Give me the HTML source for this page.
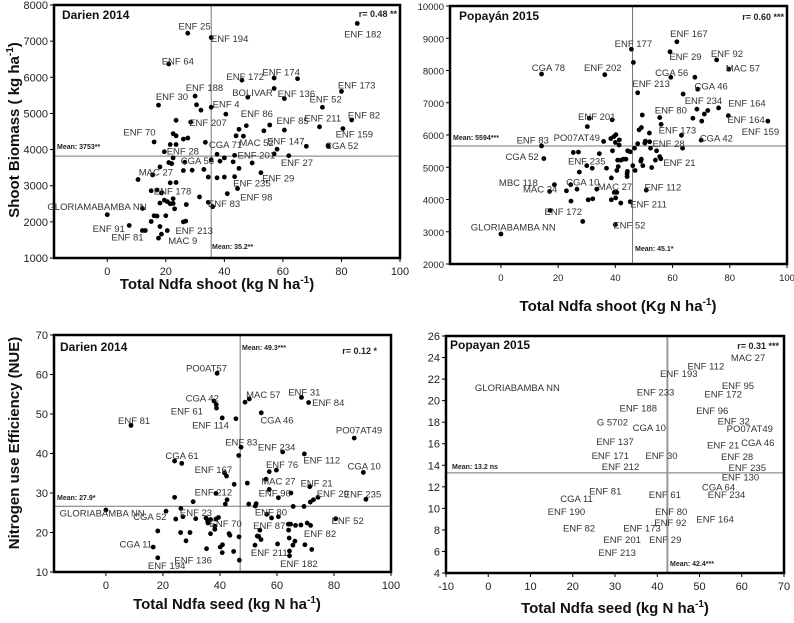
<!DOCTYPE html>
<html><head><meta charset="utf-8"><style>
body{margin:0;background:#fff}
svg{display:block;font-family:"Liberation Sans",Arial,sans-serif}
.lbl{font-size:9.5px;fill:#333}
.tk{font-size:11px;fill:#222}
.tks{font-size:9.5px;fill:#222}
.ttl{font-size:12px;font-weight:bold;fill:#111}
.ax{font-size:15px;font-weight:bold;fill:#111}
.mean{font-size:7px;font-weight:bold;fill:#222}
</style></head><body>
<svg id="chart" width="794" height="623" viewBox="0 0 794 623"></svg>
<script>
// ---------- Panel 1: Darien 2014 shoot ----------
const p1X=[85.4,27.5,35.5,21,46,57,65,57,80,48,60.5,30,17.5,30.5,32,35.5,40.5,73.5,83.5,72.5,80.5,23.5,28.5,47.5,55.5,45,53.5,60.5,16,22.5,23.5,26,27.5,44,46.5,33.5,21.5,23.5,19.5,58,57,68,75.5,62,37.5,40,43.5,22.5,18,21,22,26.5,35.5,38.5,43,49.5,15.5,10.5,21.5,23.5,26,29,33,34.5,37.5,40,43.5,45,52.5,15,17,18.5,19.5,20.5,21.5,22.5,22.5,23,18,27,31.5,34.5,36,41,44.5,12,0,15,16,17,20,26,26.8,7.5,12,13,18,20.5,18.5,17.5];
const p1Y=[7490,7220,7100,6370,5920,5980,5960,5690,5610,5450,5410,5480,5230,5240,5090,5170,4980,5170,4820,4630,4580,4810,4760,4660,4680,4560,4520,4540,4210,4440,4380,4290,4320,4380,4370,4200,4140,4140,3940,4010,3880,4090,4100,3830,3870,3770,3840,3770,3520,3640,3610,3650,3720,3680,3660,3630,3300,3170,3080,3090,3420,3430,3450,3240,3220,3240,3250,3480,3360,2860,2880,2800,2600,2560,2500,2640,2510,2360,2520,2480,2690,2540,2420,2780,2920,2370,2200,2010,2170,2160,2170,2000,2020,1900,1760,1760,1870,1760,1660,1550];
const p1LabelText=["ENF 25","ENF 194","ENF 64","ENF 172","ENF 174","ENF 188","BOLIVAR","ENF 136","ENF 173","ENF 30","ENF 52","ENF 4","ENF 82","ENF 86","ENF 207","ENF 85","ENF 211","ENF 70","ENF 159","MAC 52","ENF 147","CGA 71","CGA 52","ENF 28","ENF 201","ENF 27","CGA 58","MAC 27","ENF 29","ENF 235","ENF 178","ENF 98","GLORIAMABAMBA NN","ENF 83","ENF 91","ENF 213","ENF 81","MAC 9","ENF 182"];
const p1LabelX=[29.8,41.8,24.1,47.1,59.4,33.2,49.6,64.6,85.2,22.1,74.6,40.6,87.7,51.1,34.4,63.3,73.6,11.0,84.4,51.0,61.0,40.4,80.1,25.8,50.9,64.8,30.8,16.6,58.4,49.4,22.3,50.9,-3.5,39.9,0.5,29.7,6.9,25.8,87.3];
const p1LabelY=[7418,7068,6451,6018,6147,5724,5576,5558,5788,5466,5401,5254,4950,4996,4748,4803,4867,4490,4435,4195,4232,4140,4112,3965,3855,3643,3698,3385,3219,3072,2860,2694,2418,2501,1810,1764,1580,1488,7200];
const p1XTicks=[0,20,40,60,80,100];
const p1YTicks=[1000,2000,3000,4000,5000,6000,7000,8000];
const p1Mean=[35.5,3820];

// ---------- Panel 2: Popayan 2015 shoot ----------
const p2X=[0,17.2,28.6,40,14.2,15.0,14.2,36.3,45.6,46.3,61.5,59.1,75.4,79.7,59.4,67.8,68.8,63.7,47.8,68.5,72.3,76.1,71.1,67.1,70.2,79.5,93.3,49.4,55.5,56.0,30.9,38.9,30.2,48.3,49.1,51.9,63.1,70.0,35.9,38.4,39.5,40.2,40.0,41.3,41.4,47.8,50.3,50.5,52.0,52.3,63.5,46.7,39.0,44.3,45.2,25.3,27.1,34.4,54.4,55.5,55.9,54.0,49.1,48.9,40.8,41.9,42.8,43.7,30.0,31.9,36.9,41.0,46.1,49.6,52.7,27.4,40.5,44.2,44.1,44.1,46.9,38.6,18.7,17.0,22.9,24.4,26.6,33.5,39.6,40.5,50.8,24.5,30.5,32.1,38.6,40.1,41.9,45.2];
const p2Y=[2930,3660,3320,3220,5660,5270,7890,7870,8660,8250,8890,8580,8330,8040,7790,7790,7420,7270,7310,6800,6760,6840,6650,6520,6430,6600,6430,6620,6540,6330,6520,6470,6260,6160,6230,6060,5990,5840,5800,5890,5950,6010,5770,5690,5850,5730,5750,5810,5790,5590,5590,5590,5510,5510,5480,5460,5470,5420,5510,5330,5260,5220,5250,5190,5220,5220,5250,5250,5050,4970,4970,5020,5050,5050,4990,4850,4900,4870,4800,4710,4900,4670,4460,4250,4270,4460,4320,4320,4220,4220,4290,3950,3990,4020,3990,4050,3890,3930];
const p2LabelText=["ENF 167","ENF 177","ENF 29","ENF 92","MAC 57","CGA 78","ENF 202","CGA 56","ENF 213","CGA 46","ENF 234","ENF 164","ENF 80","ENF 201","ENF 164","ENF 173","ENF 159","PO07AT49","ENF 83","CGA 42","ENF 28","CGA 52","ENF 235","ENF 21","MBC 118","CGA 10","MAC 27","MAC 24","ENF 112","ENF 172","ENF 211","ENF 52","GLORIABAMBA NN"];
const p2LabelX=[65.7,46.3,64.5,79,84.6,16.6,35.6,59.7,52.5,73.5,70.8,86,59.4,33.5,85.7,61.7,90.7,26.5,11.1,75.3,58.6,7.4,30,62.4,6.1,28.6,39.9,13.7,56.6,21.8,51.6,44.9,4.3];
const p2LabelY=[9150,8840,8430,8530,8070,8090,8090,7940,7600,7520,7070,7000,6780,6570,6480,6160,6110,5920,5850,5910,5730,5330,5200,5150,4530,4540,4400,4320,4380,3630,3860,3210,3150];
const p2XTicks=[0,20,40,60,80,100];
const p2YTicks=[2000,3000,4000,5000,6000,7000,8000,9000,10000];
const p2Mean=[46.0,5660];

// ---------- Panel 3: Darien 2014 NUE ----------
const p3X=[0,8.8,39,37.9,38.7,38.8,40.8,45.6,48.8,50.3,54.5,68.6,71.1,87.1,47.4,46.6,62.0,69.6,24.1,26.6,57.3,59.8,90.3,41.6,42.3,56.2,45.0,49.6,57.3,71.5,38.6,64.9,60.5,74.4,72.8,71.7,91.2,24.1,30.6,42.5,41.9,50.1,52.7,52.4,65.7,69.5,26.3,21.1,56.4,58.1,60.5,80.6,27.0,24.5,31.5,35.1,35.7,35.8,36.7,38.6,39.5,38.2,38.2,36.7,43.2,43.5,46.7,64.0,64.8,66.5,68.4,70.6,71.8,18.2,26.2,29.5,28.1,54.0,53.6,54.4,53.1,64.1,64.3,66.3,60.2,52.3,65.6,69.8,72.2,16.6,18.2,35.3,40.1,40.9,40.8,44.8,46.8,64.4,64.4];
const p3Y=[25.7,47.1,60.3,53.3,52.4,51.5,49.0,48.8,53.0,53.8,50.3,54.2,52.9,43.9,41.6,39.5,40.4,39.9,38.1,37.5,35.4,35.8,35.2,35.1,34.3,33.5,32.2,32.5,30.9,31.6,29.9,30.0,28.8,28.9,28.3,27.7,28.4,28.9,27.8,28.3,27.2,27.2,27.3,26.7,26.6,26.6,26.1,25.4,24.6,23.7,24.0,23.5,24.0,23.4,23.5,23.7,22.9,22.4,23.3,23.4,23.8,21.6,20.8,19.7,19.7,19.3,18.9,22.1,22.1,21.8,21.9,22.4,21.8,20.4,20.0,20.0,17.9,20.6,19.0,18.2,19.1,20.6,18.6,17.8,17.1,16.8,16.8,16.9,15.7,16.3,13.6,15.9,16.3,16.9,14.9,15.2,13.0,15.3,14.1];
const p3LabelText=["PO0AT57","CGA 42","MAC 57","ENF 31","ENF 84","ENF 61","ENF 81","ENF 114","CGA 46","PO07AT49","ENF 83","ENF 234","ENF 112","CGA 61","CGA 10","ENF 76","ENF 167","MAC 27","ENF 21","ENF 212","ENF 96","ENF 29","ENF 235","ENF 23","ENF 80","GLORIABAMBA NN","ENF 52","CGA 52","ENF 70","ENF 87","ENF 82","CGA 11","ENF 211","ENF 136","ENF 182","ENF 194"];
const p3LabelX=[35.3,33.8,55.2,69.6,78,28.4,9.9,36.7,60,88.8,47.5,59.9,75.7,26.7,90.6,61.8,37.7,60.5,73.9,37.7,59.2,79.6,90,31.6,57.9,-1.3,84.8,15.4,42,57.3,75.1,10.5,57.3,30.6,67.7,21.3];
const p3LabelY=[61.7,54.1,55.0,55.6,52.9,50.7,48.3,47.2,48.5,46,42.9,41.7,38.3,39.5,36.8,37.2,36.0,33.0,32.5,30.2,30.0,29.9,29.7,25.1,25.2,25.0,23.1,24.1,22.3,21.8,19.7,17.1,15.0,13.1,12.2,11.7];
const p3XTicks=[0,20,40,60,80,100];
const p3YTicks=[10,20,30,40,50,60,70];
const p3Mean=[47.1,26.65];

// ---------- Panel 4: Popayan 2015 NUE (labels only) ----------
const p4LabelText=["MAC 27","ENF 112","ENF 193","ENF 95","GLORIABAMBA NN","ENF 233","ENF 172","ENF 188","ENF 96","ENF 32","G 5702","CGA 10","PO07AT49","ENF 137","CGA 46","ENF 21","ENF 171","ENF 30","ENF 28","ENF 212","ENF 235","ENF 130","CGA 64","ENF 234","ENF 81","ENF 61","CGA 11","ENF 190","ENF 80","ENF 164","ENF 92","ENF 82","ENF 173","ENF 201","ENF 29","ENF 213"];
const p4LabelX=[61.5,51.5,45.1,59.1,6.9,39.6,55.6,35.5,53.0,58.1,29.4,38.1,61.9,30.0,63.8,55.6,28.9,41.0,58.9,31.3,61.3,59.7,54.5,56.4,27.7,41.8,20.9,18.5,43.3,53.7,43.1,21.5,36.4,31.7,41.9,30.5];
const p4LabelY=[24.0,23.2,22.5,21.4,21.2,20.8,20.6,19.3,19.1,18.1,18.0,17.5,17.4,16.2,16.1,15.9,14.9,14.9,14.8,13.9,13.8,12.9,12.0,11.3,11.6,11.3,10.9,9.7,9.7,9.0,8.7,8.2,8.2,7.1,7.1,5.9];
const p4XTicks=[-10,0,10,20,30,40,50,60,70];
const p4YTicks=[4,6,8,10,12,14,16,18,20,22,24,26];
const p4Mean=[42.4,13.3];

const NS="http://www.w3.org/2000/svg";
const svg=document.getElementById('chart');
function mk(tag,attrs,parent,text){const e=document.createElementNS(NS,tag);for(const k in attrs)e.setAttribute(k,attrs[k]);if(text!==undefined)e.textContent=text;(parent||svg).appendChild(e);return e;}

function panel(id,box,xd,yd,xs,ys,xt,yt,lt,lx,ly,mean,cfg){
  const g=mk('g',{});
  
  
  const sx=v=>box.l+(v-xd[0])/(xd[1]-xd[0])*(box.r-box.l);
  const sy=v=>box.b-(v-yd[0])/(yd[1]-yd[0])*(box.b-box.t);
  const hl=mk('line',{x1:box.l,x2:box.r,y1:sy(mean[1]),y2:sy(mean[1]),stroke:'#777','stroke-width':1},g);
  
  
  const vl=mk('line',{x1:sx(mean[0]),x2:sx(mean[0]),y1:box.t,y2:box.b,stroke:cfg.vcol||'#777','stroke-width':cfg.vw||1},g);
  
  
  const fr=mk('rect',{x:box.l,y:box.t,width:box.r-box.l,height:box.b-box.t,fill:'none',stroke:'#000','stroke-width':2.5},g);
  
  
  xt.forEach(v=>{
    const x=sx(v);
    mk('line',{x1:x,x2:x,y1:box.b,y2:box.b+4,stroke:'#000'},g);
    const t=mk('text',{x:x,y:box.b+cfg.xtOff,'text-anchor':'middle',class:cfg.tkc},g,String(v));
    
    
  });
  yt.forEach(v=>{
    const y=sy(v);
    mk('line',{x1:box.l-4,x2:box.l,y1:y,y2:y,stroke:'#000'},g);
    const t=mk('text',{x:box.l-6,y:y+4,'text-anchor':'end',class:cfg.tkc},g,String(v));
    
    
  });
  xs.forEach((v,i)=>{
    const c=mk('circle',{cx:sx(v),cy:sy(ys[i]),r:2.4,fill:'#000'},g);
    
    
  });
  lt.forEach((s,i)=>{
    const t=mk('text',{x:sx(lx[i]),y:sy(ly[i])+3.5,'text-anchor':'middle',class:'lbl'},g,s);
    
    
  });
  return g;
}

panel('panel-darien-shoot',{l:54,t:5,r:400,b:258},[-18.2,100],[1000,8000],p1X,p1Y,p1XTicks,p1YTicks,p1LabelText,p1LabelX,p1LabelY,p1Mean,{xtOff:17,tkc:'tk'});
panel('panel-popayan-shoot',{l:450,t:6,r:787,b:264},[-17.8,100],[2000,10000],p2X,p2Y,p2XTicks,p2YTicks,p2LabelText,p2LabelX,p2LabelY,p2Mean,{xtOff:17,tkc:'tks'});
panel('panel-darien-seed',{l:54,t:335,r:391,b:572},[-18.2,100],[10,70],p3X,p3Y,p3XTicks,p3YTicks,p3LabelText,p3LabelX,p3LabelY,p3Mean,{xtOff:17,tkc:'tk'});
panel('panel-popayan-seed',{l:446,t:336,r:784,b:573},[-10,70],[4,26],[],[],p4XTicks,p4YTicks,p4LabelText,p4LabelX,p4LabelY,p4Mean,{xtOff:17,tkc:'tk',vcol:'#999',vw:2});

function txt(x,y,s,cls,name,anchor,extra){const t=mk('text',Object.assign({x:x,y:y,class:cls,'text-anchor':anchor||'start'},extra||{}),svg,s);return t;}
txt(62,19,'Darien 2014','ttl','panel-title-darien-shoot');
txt(397,17,'r= 0.48 **','mean','r-value-darien-shoot','end',{style:'font-size:9px'});
txt(57,149,'Mean: 3753**','mean','mean-label-y');
txt(212,249,'Mean: 35.2**','mean','mean-label-x');
txt(459,20,'Popayán 2015','ttl','panel-title-popayan-shoot');
txt(784,20,'r= 0.60 ***','mean','r-value-popayan-shoot','end',{style:'font-size:9px'});
txt(453,140,'Mean: 5594***','mean','mean-label-y');
txt(635,251,'Mean: 45.1*','mean','mean-label-x');
txt(60,351,'Darien 2014','ttl','panel-title-darien-seed');
txt(377,354,'r= 0.12 *','mean','r-value-darien-seed','end',{style:'font-size:9px'});
txt(57,500,'Mean: 27.9*','mean','mean-label-y');
txt(242,350,'Mean: 49.3***','mean','mean-label-x');
txt(450,349,'Popayan 2015','ttl','panel-title-popayan-seed');
txt(779,349,'r= 0.31 ***','mean','r-value-popayan-seed','end',{style:'font-size:9px'});
txt(452,469,'Mean: 13.2 ns','mean','mean-label-y');
txt(670,566,'Mean: 42.4***','mean','mean-label-x');

function axt(x,y,main,sup,name,rot){
  const t=mk('text',{x:x,y:y,class:'ax','text-anchor':'middle'},svg);
  if(rot)t.setAttribute('transform','rotate(-90 '+x+' '+y+')');
  
  
  mk('tspan',{},t,main);
  if(sup){mk('tspan',{dy:-6,style:'font-size:10px'},t,sup);mk('tspan',{dy:6},t,')');}
}
axt(217,289,'Total Ndfa  shoot (kg N ha','-1','x-axis-title-darien-shoot');
axt(618,311,'Total Ndfa shoot (Kg N ha','-1','x-axis-title-popayan-shoot');
axt(227,609,'Total Ndfa seed (kg N ha','-1','x-axis-title-darien-seed');
axt(615,613,'Total Ndfa seed (kg N ha','-1','x-axis-title-popayan-seed');
axt(19,130,'Shoot Biomass  ( kg ha','-1','y-axis-title-biomass',true);
axt(19,443,'Nitrogen use Efficiency (NUE)',null,'y-axis-title-nue',true);
</script>
</body></html>
